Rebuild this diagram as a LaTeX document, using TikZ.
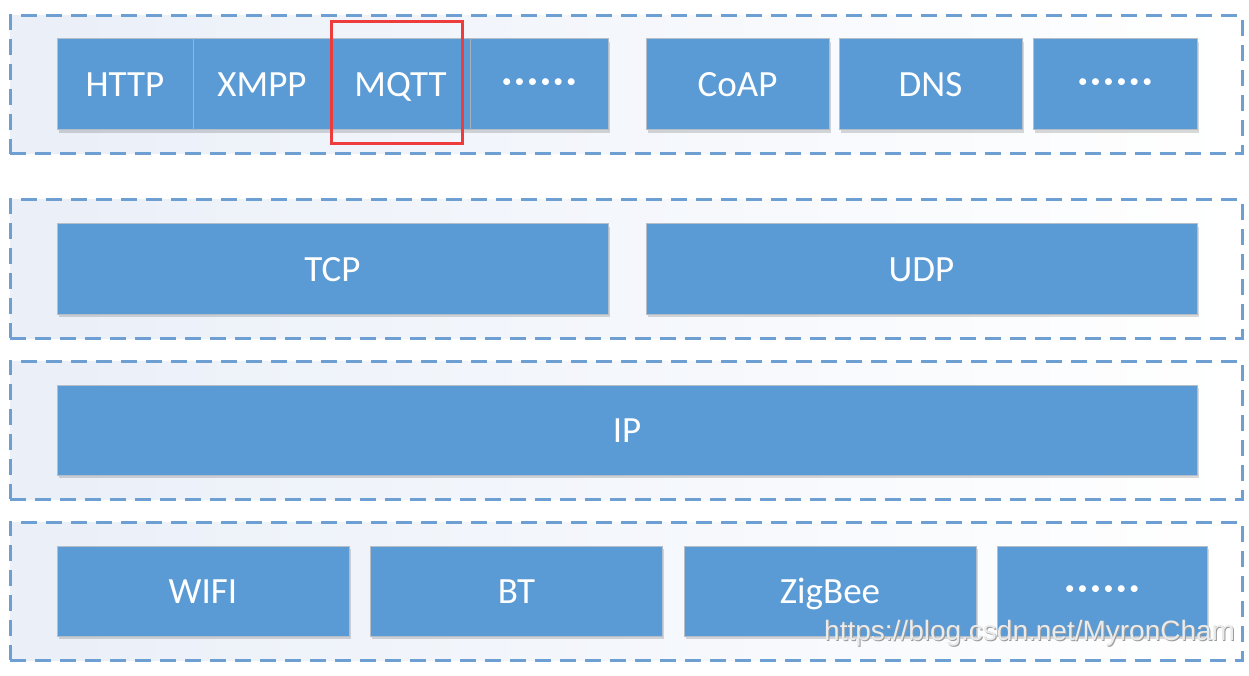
\documentclass[tikz,border=0pt]{standalone}
\usepackage{fontspec}
\setmainfont{Carlito}
\newfontfamily\wmfont{Liberation Sans}
\usetikzlibrary{shadows}
\definecolor{boxblue}{HTML}{5B9BD5}
\definecolor{dashblue}{HTML}{6E9FD2}
\definecolor{boxedge}{HTML}{B4BEC8}
\definecolor{sepgray}{HTML}{A8B2BC}
\definecolor{hlred}{HTML}{EE3B3B}
\definecolor{layerbg}{HTML}{EAEFF8}
\newcommand{\sixdots}{\raisebox{4pt}{\bfseries·\kern3pt·\kern3pt·\kern3pt·\kern3pt·\kern3pt·}}
\newcommand{\wmtext}{https://blog.csdn.net/MyronCham}
\begin{document}
\begin{tikzpicture}[x=1pt,y=-1pt,
  layer/.style={draw=dashblue, line width=3pt, dash pattern=on 16pt off 9pt,
    left color=layerbg, right color=white, inner sep=0pt},
  blk/.style={fill=boxblue, draw=boxedge, line width=1pt, text=white,
    font=\fontsize{37}{40}\selectfont, text height=24pt, text depth=0pt, inner sep=0pt,
    drop shadow={shadow xshift=1.5pt, shadow yshift=-3pt, opacity=0.15, fill=black}},
  sep/.style={draw=sepgray, line width=1.5pt},
  hl/.style={draw=hlred, line width=3pt, inner sep=0pt},
  wm/.style={font=\wmfont\fontsize{28}{30}\selectfont, inner sep=0pt, anchor=base west}]
\useasboundingbox (0,0) rectangle (1249,676);
\fill[white] (0,0) rectangle (1249,676);

% layers
\node[layer, minimum width=1232, minimum height=138] (L1) at (626,85) {};
\node[layer, minimum width=1232, minimum height=138] (L2) at (626,269) {};
\node[layer, minimum width=1232, minimum height=138] (L3) at (626,430) {};
\node[layer, minimum width=1232, minimum height=138] (L4) at (626,591) {};

% application layer
\node[blk, minimum width=136, minimum height=91] (http) at (125,84.5) {HTTP};
\node[blk, minimum width=138, minimum height=91] (xmpp) at (262,84.5) {XMPP};
\node[blk, minimum width=139, minimum height=91] (mqtt) at (400.5,84.5) {MQTT};
\node[blk, minimum width=138, minimum height=91] (dots1) at (539,84.5) {\sixdots};
\draw[sep] (http.north east) -- (http.south east);
\draw[sep] (xmpp.north east) -- (xmpp.south east);
\draw[sep] (mqtt.north east) -- (mqtt.south east);
\node[blk, minimum width=183, minimum height=91] (coap) at (737.5,84.5) {CoAP};
\node[blk, minimum width=183, minimum height=91] (dns) at (930.5,84.5) {DNS};
\node[blk, minimum width=164, minimum height=91] (dots2) at (1115,84.5) {\sixdots};

% transport layer
\node[blk, minimum width=551, minimum height=90] (tcp) at (332.5,269) {TCP};
\node[blk, minimum width=551, minimum height=90] (udp) at (921.5,269) {UDP};

% network layer
\node[blk, minimum width=1140, minimum height=90] (ip) at (627,430) {IP};

% link layer
\node[blk, minimum width=292, minimum height=90] (wifi) at (203,591) {WIFI};
\node[blk, minimum width=292, minimum height=90] (bt) at (516.5,591) {BT};
\node[blk, minimum width=292, minimum height=90] (zigbee) at (830,591) {ZigBee};
\node[blk, minimum width=210, minimum height=90] (dots3) at (1102,591) {\sixdots};

% highlight
\node[hl, minimum width=131, minimum height=122] (mark) at (396.5,83) {};

% watermark
\node[wm] (wmark) at (824,640) {\rlap{\kern1pt\raisebox{-1pt}{\color{black!40}\wmtext}}\color{white!92!black}\wmtext};
\end{tikzpicture}
\end{document}
